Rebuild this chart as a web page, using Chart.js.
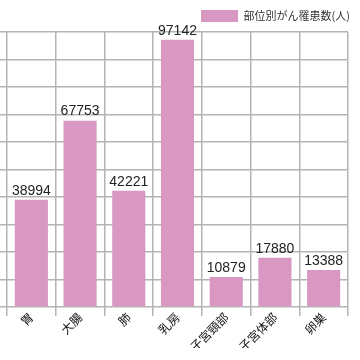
<!DOCTYPE html>
<html>
<head>
<meta charset="utf-8">
<script src="https://cdn.jsdelivr.net/npm/chart.js@4/dist/chart.umd.min.js"></script>
<style>
  html, body { margin: 0; padding: 0; background: #fff; }
  #wrap { width: 360px; height: 360px; }
</style>
</head>
<body>
<div id="wrap"><canvas id="chart"></canvas></div>
<script>
const sites = ["胃", "大腸", "肺", "乳房", "子宮頸部", "子宮体部", "卵巣"];
const patients = [38994, 67753, 42221, 97142, 10879, 17880, 13388];
const seriesName = "部位別がん罹患数(人)";

const gridColor = "#b4b4b4";
const barColor = "#d898c2";

// number on top of each bar
const valueLabels = {
    id: "valueLabels",
    afterDatasetsDraw(chart) {
        const ctx = chart.ctx;
        const meta = chart.getDatasetMeta(0);
        ctx.save();
        ctx.font = "14px 'Liberation Sans', Arial, sans-serif";
        ctx.fillStyle = "#222";
        ctx.textAlign = "center";
        ctx.textBaseline = "bottom";
        meta.data.forEach((bar, i) => {
            ctx.fillText(String(patients[i]), bar.x, bar.y - 2);
        });
        ctx.restore();
    }
};

const ctx = document.getElementById("chart").getContext("2d");
new Chart(ctx, {
    type: "bar",
    data: {
        labels: sites,
        datasets: [{
            label: seriesName,
            data: patients,
            backgroundColor: barColor,
            barPercentage: 0.68,
            categoryPercentage: 1
        }]
    },
    options: {
        responsive: true,
        maintainAspectRatio: false,
        animation: false,
        layout: { padding: { left: 0, right: 0, top: 0, bottom: 12 } },
        plugins: {
            legend: {
                align: "end",
                labels: {
                    boxWidth: 37,
                    boxHeight: 12,
                    color: "#333",
                    font: { family: "'Noto Sans CJK JP'", size: 11 }
                }
            },
            tooltip: { enabled: false }
        },
        scales: {
            x: {
                grid: {
                    color: c => (c.index === sites.length ? "transparent" : gridColor),
                    lineWidth: 1.5,
                    tickLength: 9
                },
                border: { display: false },
                ticks: {
                    minRotation: 45,
                    maxRotation: 45,
                    color: "#111",
                    padding: -6,
                    font: { family: "'Noto Sans CJK JP'", size: 12 }
                }
            },
            y: {
                min: 0,
                max: 100000,
                grid: { color: gridColor, lineWidth: 1.5, tickLength: 7 },
                border: { display: false },
                ticks: { stepSize: 10000, display: false }
            },
            // empty strip on the right, keeps the plot narrower than the legend row
            yRight: {
                position: "right",
                grid: { display: false },
                border: { display: false },
                ticks: { display: false },
                afterFit(s) { s.width = 12; }
            }
        }
    },
    plugins: [valueLabels]
});
</script>
</body>
</html>
